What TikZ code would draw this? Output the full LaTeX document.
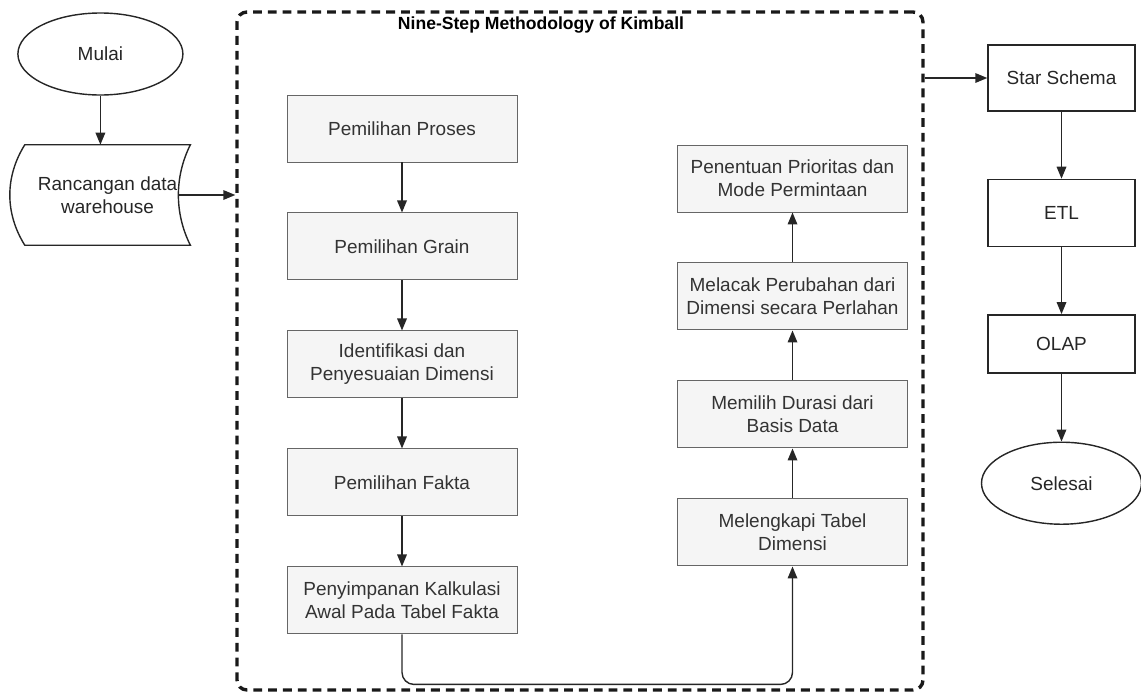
\documentclass[tikz,border=0pt]{standalone}
\usepackage{fontspec}
\setmainfont{Liberation Sans}
\usepackage{xcolor}
\usetikzlibrary{shapes.geometric,arrows.meta,positioning,calc}

\definecolor{boxfill}{HTML}{F5F5F5}
\definecolor{boxline}{HTML}{666666}

\begin{document}
\begin{tikzpicture}[node distance=1.25cm, auto,
    font=\fontsize{13.5}{16.3}\selectfont,
    stepbox/.style={rectangle, draw=boxline, fill=boxfill, line width=0.7pt, text=black!80, minimum width=5.75cm, minimum height=1.675cm, align=center},
    plainbox/.style={rectangle, draw=black!85, line width=1pt, text=black!85, minimum width=3.675cm, minimum height=1.675cm, align=center},
    terminal/.style={ellipse, draw=black!85, line width=1pt, text=black!85, minimum width=4.1cm, minimum height=2.05cm},
    container/.style={rectangle, draw=black!90, line width=2.4pt, dash pattern=on 0.22cm off 0.15cm, rounded corners=0.25cm, minimum width=17.15cm, minimum height=16.95cm},
    line/.style={draw=black!85, line width=1pt, -{Triangle[length=0.3cm,width=0.24cm]}}]

    \useasboundingbox (0,0) rectangle (28.525,-17.375);

    % left: start and design
    \node [terminal, minimum width=4.125cm] (start) at (2.51,-1.35) {Mulai};
    \node [minimum width=4.125cm, minimum height=2.5cm, align=center, text=black!85] (design) at (2.69,-4.875) {Rancangan data\\warehouse};
    \draw [line width=1pt, draw=black!85] (design.north west) -- (design.north east)
        .. controls +(-0.4,-0.8) and +(-0.4,0.8) .. (design.south east) -- (design.south west)
        .. controls +(-0.5,0.8) and +(-0.5,-0.8) .. cycle;
    \coordinate (design out) at ($(design.east)+(-0.3,0)$);

    % the nine steps
    \node [container] (kimball) at (14.5,-8.775) {};
    \node [font=\bfseries\fontsize{12.5}{14}\selectfont] (title) at (13.525,-0.625) {Nine-Step Methodology of Kimball};

    \node [stepbox] (process) at (10.05,-3.2125) {Pemilihan Proses};
    \node [stepbox, below=of process] (grain) {Pemilihan Grain};
    \node [stepbox, below=of grain] (dimension) {Identifikasi dan\\Penyesuaian Dimensi};
    \node [stepbox, below=of dimension] (fact) {Pemilihan Fakta};
    \node [stepbox, below=of fact] (store) {Penyimpanan Kalkulasi\\Awal Pada Tabel Fakta};

    \node [stepbox] (priority) at (19.8125,-4.4625) {Penentuan Prioritas dan\\Mode Permintaan};
    \node [stepbox, below=of priority] (track) {Melacak Perubahan dari\\Dimensi secara Perlahan};
    \node [stepbox, below=of track] (duration) {Memilih Durasi dari\\Basis Data};
    \node [stepbox, below=of duration] (complete) {Melengkapi Tabel\\Dimensi};

    % right: outputs
    \node [plainbox, minimum height=1.65cm] (schema) at (26.5375,-1.95) {Star Schema};
    \node [plainbox, below=1.675cm of schema] (etl) {ETL};
    \node [plainbox, minimum height=1.45cm, below=1.675cm of etl] (olap) {OLAP};
    \node [terminal, minimum width=4cm, below=1.7cm of olap] (finish) {Selesai};

    \path [line] (start) -- (start |- design.north);
    \path [line] (design out) -- (design out -| kimball.west);
    \path [line] (process) -- (grain);
    \path [line] (grain) -- (dimension);
    \path [line] (dimension) -- (fact);
    \path [line] (fact) -- (store);
    \path [line, rounded corners=0.3cm] (store.south) -- ++(0,-1.25) -| (complete.south);
    \path [line] (complete) -- (duration);
    \path [line] (duration) -- (track);
    \path [line] (track) -- (priority);
    \path [line] (kimball.east |- schema.west) -- (schema.west);
    \path [line] (schema) -- (etl);
    \path [line] (etl) -- (olap);
    \path [line] (olap) -- (finish);
\end{tikzpicture}
\end{document}
